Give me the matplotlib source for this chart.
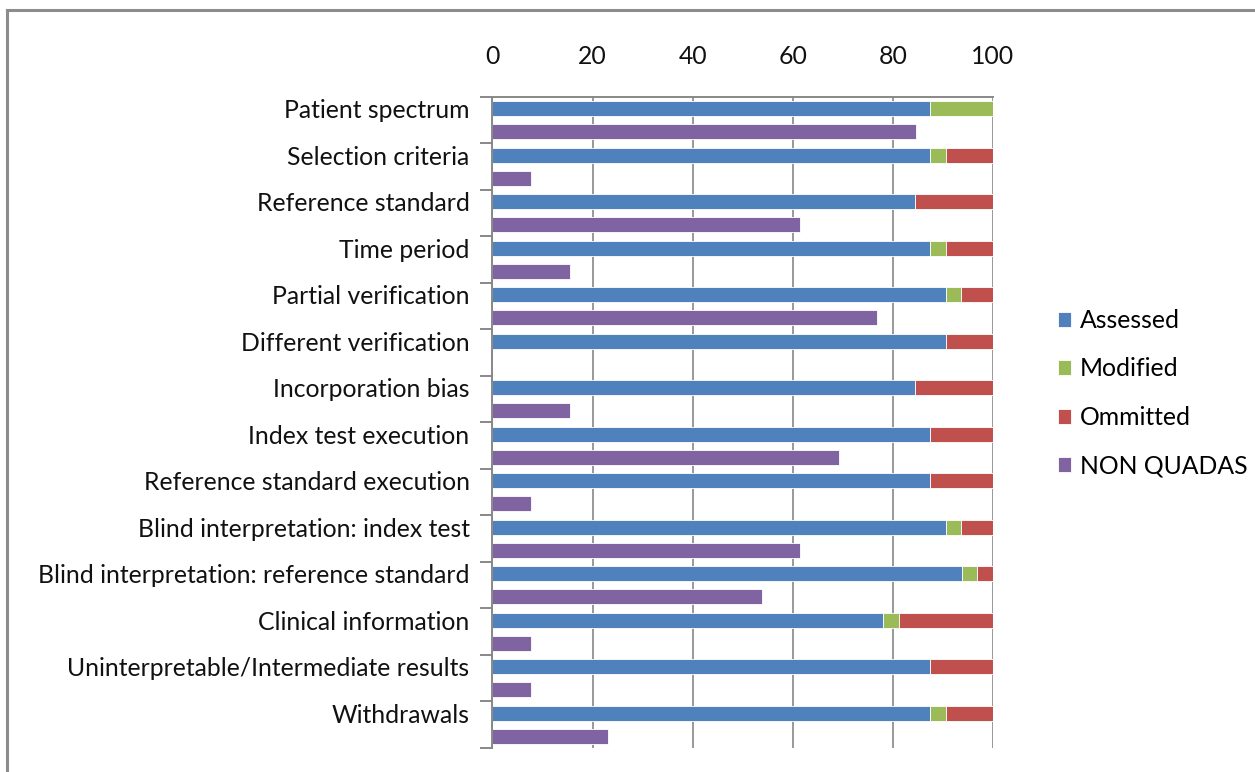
import numpy as np
import matplotlib
matplotlib.use("Agg")
import matplotlib.pyplot as plt
from matplotlib.lines import Line2D

# ---- data (percent of studies) ----
categories = [
    "Patient spectrum",
    "Selection criteria",
    "Reference standard",
    "Time period",
    "Partial verification",
    "Different verification",
    "Incorporation bias",
    "Index test execution",
    "Reference standard execution",
    "Blind interpretation: index test",
    "Blind interpretation: reference standard",
    "Clinical information",
    "Uninterpretable/Intermediate results",
    "Withdrawals",
]
assessed = [87.5, 87.5, 84.4, 87.5, 90.6, 90.6, 84.4, 87.5, 87.5, 90.6, 93.8, 78.1, 87.5, 87.5]
modified = [12.5, 3.1, 0.0, 3.1, 3.1, 0.0, 0.0, 0.0, 0.0, 3.1, 3.1, 3.1, 0.0, 3.1]
ommitted = [0.0, 9.4, 15.6, 9.4, 6.3, 9.4, 15.6, 12.5, 12.5, 6.3, 3.1, 18.8, 12.5, 9.4]
non_quadas = [84.6, 7.7, 61.5, 15.4, 76.9, 0.0, 15.4, 69.2, 7.7, 61.5, 53.8, 7.7, 7.7, 23.1]

series_names = ["Assessed", "Modified", "Ommitted", "NON QUADAS"]
colors = ["#4F81BD", "#9BBB59", "#C0504D", "#8064A2"]

plt.rcParams['font.family'] = ['Lato', 'DejaVu Sans']
fs = 17.8

fig = plt.figure(figsize=(12.55, 7.72), dpi=100)
ax = fig.add_axes([0.3924, 0.0311, 0.3988, 0.8433])

n = len(categories)
y_top = np.arange(n) * 2
y_bot = y_top + 1
h = 0.65

a = np.array(assessed)
m = np.array(modified)
o = np.array(ommitted)
ax.barh(y_top, a, height=h, color=colors[0], edgecolor="white", linewidth=0.6, label=series_names[0])
ax.barh(y_top, m, left=a, height=h, color=colors[1], edgecolor="white", linewidth=0.6, label=series_names[1])
ax.barh(y_top, o, left=a + m, height=h, color=colors[2], edgecolor="white", linewidth=0.6, label=series_names[2])
ax.barh(y_bot, non_quadas, height=h, color=colors[3], edgecolor="white", linewidth=0.6, label=series_names[3])

ax.set_xlim(0, 100)
ax.set_ylim(2 * n - 0.5, -0.5)

# x axis on top
ax.xaxis.tick_top()
ax.set_xticks(range(0, 101, 20))
ax.tick_params(axis="x", length=0, pad=21, labelsize=fs, colors="#111111")
ax.grid(axis="x", color="#999999", linewidth=1.4)
ax.set_axisbelow(True)

# category labels at the top bar of each pair, tick marks at group borders
ax.set_yticks(y_top)
ax.set_yticklabels(categories)
ax.set_yticks(np.arange(n + 1) * 2 - 0.5, minor=True)
ax.tick_params(axis="y", which="major", length=0, pad=16.5, labelsize=fs, colors="#111111")
ax.tick_params(axis="y", which="minor", length=9, width=1.4, color="#888888")

for side in ["right", "bottom"]:
    ax.spines[side].set_visible(False)
for side in ["left", "top"]:
    ax.spines[side].set_color("#888888")
    ax.spines[side].set_linewidth(1.4)

leg = ax.legend(loc="center left", bbox_to_anchor=(1.095, 0.545), frameon=False,
                fontsize=fs, handlelength=0.55, handleheight=0.55,
                handletextpad=0.35, labelspacing=1.03, borderpad=0.2)

# outer chart frame (top and left edges visible)
fig.add_artist(Line2D([7 / 1255, 7 / 1255], [0, 1 - 10 / 772], color="#8c8c8c", linewidth=2.2))
fig.add_artist(Line2D([7 / 1255, 1], [1 - 10 / 772, 1 - 10 / 772], color="#8c8c8c", linewidth=2.2))

fig.savefig("out.png", dpi=100)
